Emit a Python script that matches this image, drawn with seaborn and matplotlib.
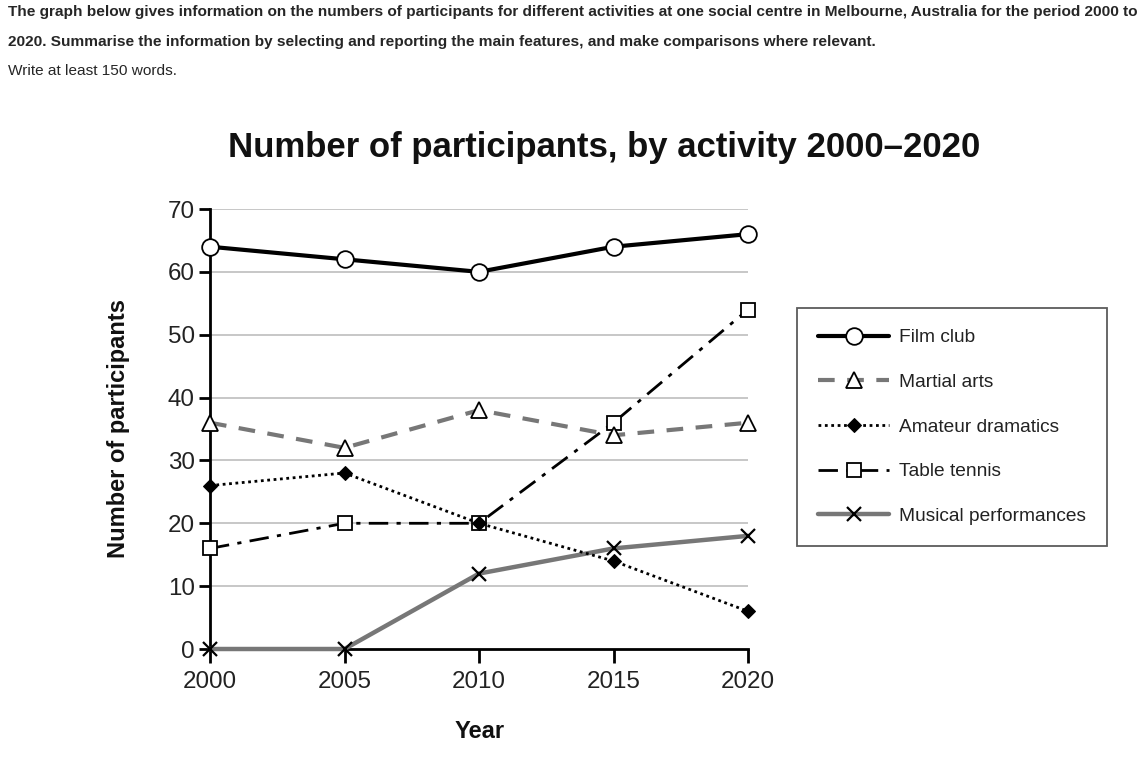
import numpy as np
import pandas as pd
import seaborn as sns
import matplotlib.pyplot as plt

# values
years = [2000, 2005, 2010, 2015, 2020]
film_club = [64, 62, 60, 64, 66]
martial_arts = [36, 32, 38, 34, 36]
amateur_dramatics = [26, 28, 20, 14, 6]
table_tennis = [16, 20, 20, 36, 54]
musical_performances = [0, 0, 12, 16, 18]
y_ticks = [0, 10, 20, 30, 40, 50, 60, 70]

sns.set_style('white')
plt.rcParams['font.family'] = ['Liberation Sans', 'DejaVu Sans']

fig = plt.figure(figsize=(11.45, 7.63), dpi=100)
ax = fig.add_axes([210 / 1145, 1 - 649 / 763, 538 / 1145, 440 / 763])

# prompt text above the chart
fig.text(8 / 1145, 1 - 12 / 763,
         'The graph below gives information on the numbers of participants for different activities '
         'at one social centre in Melbourne, Australia for the period 2000 to',
         fontsize=11.1, fontweight='bold', va='center', ha='left')
fig.text(8 / 1145, 1 - 42 / 763,
         '2020. Summarise the information by selecting and reporting the main features, '
         'and make comparisons where relevant.',
         fontsize=11.1, fontweight='bold', va='center', ha='left')
fig.text(8 / 1145, 1 - 71 / 763, 'Write at least 150 words.',
         fontsize=11.1, va='center', ha='left')

fig.text(604 / 1145, 1 - 148 / 763, 'Number of participants, by activity 2000\u20132020',
         fontsize=25, fontweight='bold', ha='center', va='center', color='#111111')

for yt in y_ticks[1:]:
    ax.axhline(yt, color='#bdbdbd', lw=1.2, zorder=0)

sns.lineplot(x=years, y=musical_performances, ax=ax, color='#777777', lw=3.2,
             marker='x', markersize=10, markeredgecolor='black', markeredgewidth=1.6,
             label='Musical performances', clip_on=False, zorder=3)
sns.lineplot(x=years, y=table_tennis, ax=ax, color='black', lw=2, linestyle=(0, (7, 3, 1.5, 3)),
             marker='s', markersize=10, markerfacecolor='white', markeredgecolor='black',
             markeredgewidth=1.3, label='Table tennis', clip_on=False, zorder=4)
sns.lineplot(x=years, y=amateur_dramatics, ax=ax, color='black', lw=2, linestyle=(0, (1, 1.3)),
             marker='D', markersize=7, markerfacecolor='black', markeredgecolor='black',
             label='Amateur dramatics', clip_on=False, zorder=5)
sns.lineplot(x=years, y=martial_arts, ax=ax, color='#777777', lw=3, linestyle=(0, (4, 3)),
             marker='^', markersize=12, markerfacecolor='white', markeredgecolor='black',
             markeredgewidth=1.3, label='Martial arts', clip_on=False, zorder=4)
sns.lineplot(x=years, y=film_club, ax=ax, color='black', lw=3,
             marker='o', markersize=12, markerfacecolor='white', markeredgecolor='black',
             markeredgewidth=1.3, label='Film club', clip_on=False, zorder=6)

ax.set_xlim(2000, 2020)
ax.set_ylim(0, 70)
ax.set_xticks(years)
ax.set_yticks(y_ticks)
ax.tick_params(axis='both', labelsize=17.4, labelcolor='#222222', color='black',
               width=2, direction='out', bottom=True, left=True)
ax.tick_params(axis='x', length=10, pad=6)
ax.tick_params(axis='y', length=8, pad=3)
for side in ['top', 'right']:
    ax.spines[side].set_visible(False)
for side in ['left', 'bottom']:
    ax.spines[side].set_color('black')
    ax.spines[side].set_linewidth(2)
ax.set_xlabel('')
ax.set_ylabel('')

fig.text(118 / 1145, 1 - 428 / 763, 'Number of participants', rotation=90,
         fontsize=17, fontweight='bold', ha='center', va='center', color='#111111')
fig.text(480 / 1145, 1 - 732 / 763, 'Year',
         fontsize=17, fontweight='bold', ha='center', va='center', color='#111111')

handles, labels = ax.get_legend_handles_labels()
order = ['Film club', 'Martial arts', 'Amateur dramatics', 'Table tennis', 'Musical performances']
hmap = dict(zip(labels, handles))
leg = ax.legend([hmap[k] for k in order], order,
                loc='upper left', bbox_to_anchor=(797 / 1145, 1 - 308 / 763),
                bbox_transform=fig.transFigure, fontsize=13.8, frameon=True, fancybox=False,
                edgecolor='#333333', handlelength=3.7, handletextpad=0.5,
                labelspacing=1.42, borderpad=1.1, borderaxespad=0)
leg.get_frame().set_linewidth(1.3)
for t in leg.get_texts():
    t.set_color('#222222')

fig.savefig('out.png', dpi=100)
